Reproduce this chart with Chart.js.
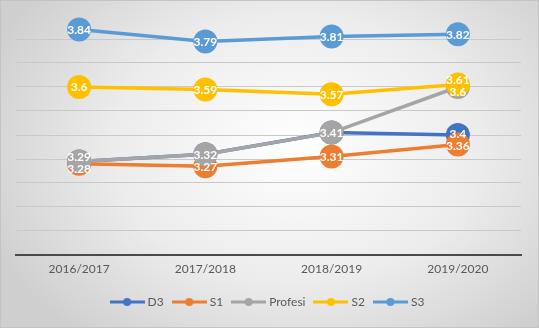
<!DOCTYPE html>
<html>
<head>
<meta charset="utf-8">
<script src="https://cdn.jsdelivr.net/npm/chart.js@4/dist/chart.umd.min.js"></script>
<style>
  html, body { margin: 0; padding: 0; width: 539px; height: 328px; overflow: hidden; }
  body { background: radial-gradient(ellipse 62% 75% at 55% 45%, #ffffff 0%, #ececec 55%, #cfcfcf 100%); position: relative; }
  #frame { position: absolute; left: 0; top: 0; width: 539px; height: 328px; box-sizing: border-box; border: 1px solid #c4c4c4; pointer-events: none; }
  canvas { position: absolute; left: 0; top: 0; }
</style>
</head>
<body>
<canvas id="c" width="539" height="328"></canvas>
<div id="frame"></div>
<script>
const categories = ["2016/2017", "2017/2018", "2018/2019", "2019/2020"];
const seriesNames = ["D3", "S1", "Profesi", "S2", "S3"];
const d3Values = [3.29, 3.32, 3.41, 3.4];
const s1Values = [3.28, 3.27, 3.31, 3.36];
const profesiValues = [3.29, 3.32, 3.41, 3.6];
const s2Values = [3.6, 3.59, 3.57, 3.61];
const s3Values = [3.84, 3.79, 3.81, 3.82];
const yMin = 2.9, yMax = 3.9, yStep = 0.1;

const colors = ["#4472C4", "#ED7D31", "#A5A5A5", "#FFC000", "#5B9BD5"];
const allValues = [d3Values, s1Values, profesiValues, s2Values, s3Values];
const FONT = "Lato, 'Open Sans', sans-serif";

function legendIcon(color) {
  const c = document.createElement('canvas');
  c.width = 35; c.height = 10;
  const g = c.getContext('2d');
  g.strokeStyle = color; g.lineWidth = 3;
  g.beginPath(); g.moveTo(0, 5); g.lineTo(35, 5); g.stroke();
  g.fillStyle = color;
  g.beginPath(); g.arc(17.5, 5, 4, 0, Math.PI * 2); g.fill();
  return c;
}
const icons = colors.map(legendIcon);

const datasets = seriesNames.map((name, i) => ({
  label: name,
  data: allValues[i],
  borderColor: colors[i],
  backgroundColor: colors[i],
  borderWidth: 3.5,
  pointRadius: 12,
  pointHoverRadius: 12,
  pointBorderWidth: 0,
  pointBackgroundColor: colors[i],
  tension: 0,
  order: seriesNames.length - i
}));

const labelPlugin = {
  id: 'circleLabels',
  afterDatasetsDraw(chart) {
    const ctx = chart.ctx;
    const ys = chart.scales.y, xs = chart.scales.x;
    ctx.save();
    ctx.font = "bold 12px " + FONT;
    ctx.fillStyle = "#ffffff";
    ctx.textAlign = "center";
    ctx.textBaseline = "middle";
    const minSep = 12;
    categories.forEach((cat, ci) => {
      let items = [];
      chart.data.datasets.forEach((ds, di) => {
        const v = ds.data[ci];
        const text = String(v);
        const ex = items.find(it => it.text === text);
        if (ex) { if (di > ex.di) ex.di = di; return; }
        items.push({ text, y: ys.getPixelForValue(v), di });
      });
      items.sort((a, b) => a.y - b.y || b.di - a.di);
      let groups = [];
      items.forEach(it => {
        const g = groups[groups.length - 1];
        if (g && it.y - g[g.length - 1].y < minSep) g.push(it); else groups.push([it]);
      });
      const x = xs.getPixelForValue(ci);
      groups.forEach(g => {
        const mean = g.reduce((s, it) => s + it.y, 0) / g.length;
        g.forEach((it, k) => {
          const y = g.length > 1 ? mean + (k - (g.length - 1) / 2) * minSep : it.y;
          ctx.fillText(it.text, x, y + 0.5);
        });
      });
    });
    ctx.restore();
  }
};

new Chart(document.getElementById('c'), {
  type: 'line',
  data: { labels: categories, datasets },
  plugins: [labelPlugin],
  options: {
    responsive: false,
    animation: false,
    events: [],
    layout: { padding: { left: 16, right: 18, top: 15, bottom: 10 } },
    scales: {
      x: {
        offset: true,
        grid: { display: false, drawTicks: false },
        border: { display: true, color: "#4a4a4a", width: 2 },
        ticks: { color: "#595959", font: { family: FONT, size: 12 }, padding: 7, maxRotation: 0 },
        afterFit(s) { s.height = 30; }
      },
      y: {
        min: yMin, max: yMax,
        ticks: { display: false, stepSize: yStep },
        grid: {
          drawTicks: false,
          color: (c) => (c.tick && Math.abs(c.tick.value - yMax) < 1e-6) ? "rgba(0,0,0,0)" : "#c9c9c9",
          lineWidth: 1
        },
        border: { display: false },
        afterFit(s) { s.width = 0; }
      }
    },
    plugins: {
      tooltip: { enabled: false },
      legend: {
        position: 'bottom',
        labels: {
          usePointStyle: true,
          pointStyleWidth: 29,
          boxHeight: 10,
          padding: 11,
          color: "#595959",
          font: { family: FONT, size: 12 },
          sort: (a, b) => a.datasetIndex - b.datasetIndex,
          generateLabels(chart) {
            return chart.data.datasets.map((ds, i) => ({
              text: ds.label,
              fillStyle: ds.borderColor,
              strokeStyle: ds.borderColor,
              pointStyle: icons[i],
              lineWidth: 0,
              hidden: false,
              datasetIndex: i,
              fontColor: "#595959"
            }));
          }
        }
      }
    }
  }
});
</script>
</body>
</html>
